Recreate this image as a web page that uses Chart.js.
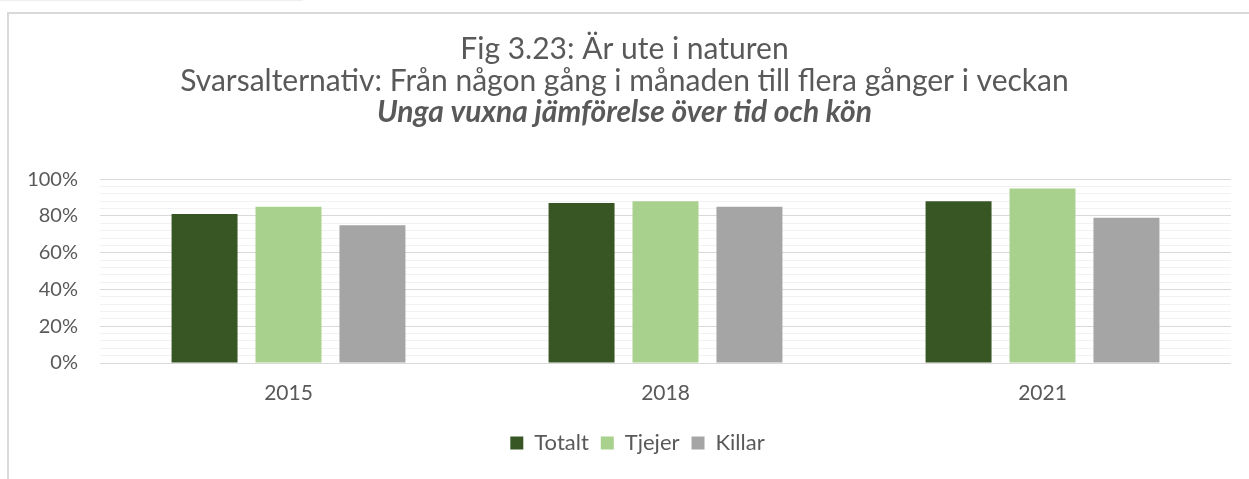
<!DOCTYPE html>
<html>
<head>
<meta charset="utf-8">
<script src="https://cdn.jsdelivr.net/npm/chart.js@4"></script>
<style>
  html, body { margin: 0; padding: 0; background: #ffffff; }
  #wrap { position: relative; width: 1249px; height: 479px; overflow: hidden; }
  #frame { position: absolute; left: 7px; top: 12px; width: 1250px; height: 480px;
           border-top: 2px solid #d9d9d9; border-left: 2px solid #d9d9d9; }
  #topline { position: absolute; left: 0; top: 0; width: 303px; height: 1px; background: #eeeeee; }
  canvas { position: absolute; left: 0; top: 0; }
</style>
</head>
<body>
<div id="wrap">
  <div id="topline"></div>
  <div id="frame"></div>
  <canvas id="c" width="1249" height="479"></canvas>
</div>
<script>
const categories = ['2015', '2018', '2021'];
const totalt = [81, 87, 88];
const tjejer = [85, 88, 95];
const killar = [75, 85, 79];
const seriesNames = ['Totalt', 'Tjejer', 'Killar'];
const yTickLabels = ['0%', '20%', '40%', '60%', '80%', '100%'];
const titleLines = ['Fig 3.23: Är ute i naturen', 'Svarsalternativ: Från någon gång i månaden till flera gånger i veckan'];
const subtitleText = 'Unga vuxna jämförelse över tid och kön';

const FONT = 'Lato, "Liberation Sans", sans-serif';
const GREY = '#595959';

const legendShift = {
  id: 'legendShift',
  afterLayout(chart) {
    if (chart.legend) {
      chart.legend.left += 13;
      chart.legend.right += 13;
    }
  }
};

new Chart(document.getElementById('c'), {
  type: 'bar',
  data: {
    labels: categories,
    datasets: [
      { label: seriesNames[0], data: totalt, backgroundColor: '#375623' },
      { label: seriesNames[1], data: tjejer, backgroundColor: '#a9d18e' },
      { label: seriesNames[2], data: killar, backgroundColor: '#a5a5a5' }
    ]
  },
  plugins: [legendShift],
  options: {
    responsive: false,
    animation: false,
    devicePixelRatio: 1,
    layout: { padding: { left: 0, right: 0, top: 0, bottom: 15 } },
    datasets: { bar: { categoryPercentage: 0.668, barPercentage: 0.786 } },
    plugins: {
      tooltip: { enabled: false },
      title: {
        display: true,
        text: titleLines,
        color: GREY,
        font: { family: FONT, size: 30, weight: 'normal', lineHeight: 1.07 },
        padding: { top: 33, bottom: 0 }
      },
      subtitle: {
        display: true,
        text: subtitleText,
        color: GREY,
        font: { family: FONT, size: 30, weight: 'bold', style: 'italic', lineHeight: 1.0 },
        padding: { top: 0, bottom: 52 }
      },
      legend: {
        position: 'bottom',
        labels: {
          color: GREY,
          font: { family: FONT, size: 22 },
          boxWidth: 13, boxHeight: 13,
          padding: 12
        }
      }
    },
    scales: {
      x: {
        grid: { display: false },
        border: { display: false },
        ticks: { color: GREY, font: { family: FONT, size: 21 }, padding: 10 },
        afterFit: (s) => { s.height = 57; }
      },
      y: {
        min: 0, max: 100,
        border: { display: false },
        grid: {
          drawTicks: false,
          color: (ctx) => (ctx.tick && ctx.tick.value % 20 === 0) ? '#d9d9d9' : '#f2f2f2',
          lineWidth: 1
        },
        ticks: {
          stepSize: 4,
          autoSkip: false,
          color: GREY,
          font: { family: FONT, size: 20 },
          padding: 22,
          callback: (v) => (v % 20 === 0) ? yTickLabels[v / 20] : ''
        },
        afterFit: (s) => { s.width = 100; }
      },
      yRight: {
        position: 'right',
        min: 0, max: 100,
        grid: { display: false, drawTicks: false },
        border: { display: false },
        ticks: { display: false },
        afterFit: (s) => { s.width = 18; }
      }
    }
  }
});
</script>
</body>
</html>
